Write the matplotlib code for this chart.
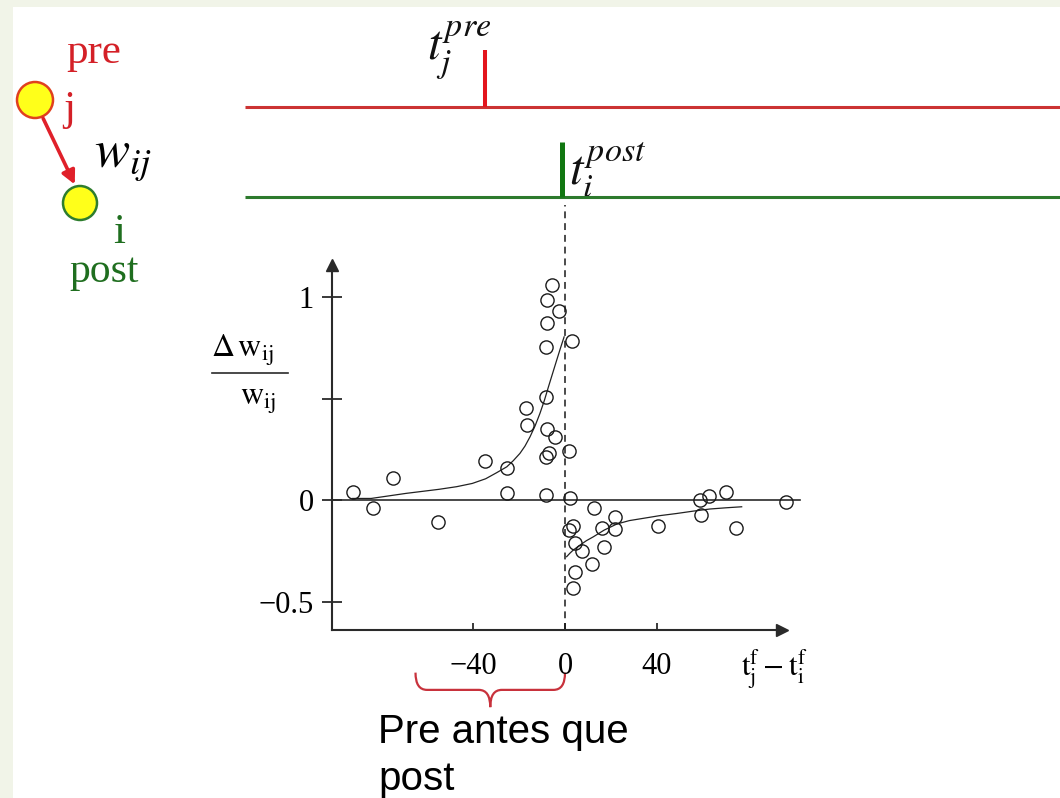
import matplotlib
matplotlib.use('Agg')
import matplotlib.pyplot as plt
from matplotlib.patches import Circle, Rectangle, FancyArrowPatch, PathPatch
from matplotlib.path import Path

plt.rcParams['mathtext.fontset'] = 'stix'
plt.rcParams['font.family'] = ['Liberation Serif', 'DejaVu Serif']

# spike timing difference t_j - t_i (ms) and relative weight change
dt = [-5.8, -8.0, -2.5, -7.7, -8.3, 3.0, -8.3, -17.0, -16.4, -7.7, -4.3,
      1.9, -6.8, -8.3, -34.8, -25.3, -74.9, -92.3, -25.3, -8.3, 2.2, -83.3,
      -55.1, 12.7, 3.3, 1.9, 21.7, 16.0, 21.7, 4.3, 7.3, 17.0, 11.6, 4.3,
      3.6, 40.6, 58.7, 62.7, 70.0, 59.1, 74.3, 96.1]
dw = [1.059, 0.985, 0.933, 0.870, 0.752, 0.785, 0.509, 0.455, 0.369, 0.348,
      0.312, 0.241, 0.230, 0.210, 0.192, 0.156, 0.110, 0.039, 0.036, 0.025,
      0.008, -0.037, -0.107, -0.041, -0.128, -0.148, -0.082, -0.136, -0.144,
      -0.213, -0.251, -0.233, -0.317, -0.353, -0.435, -0.127, 0.0, 0.020,
      0.041, -0.074, -0.139, -0.011]

# fitted curves (potentiation for dt<0, depression for dt>0)
ltp_x = [-92.3, -84.3, -69.1, -54.8, -47.1, -40.3, -34.5, -29.7, -25.3,
         -22.5, -19.6, -17.4, -15.2, -13.0, -10.9, -9.0, -7.2, -5.4, -3.6,
         -2.0, -0.4]
ltp_y = [0.008, 0.008, 0.033, 0.053, 0.066, 0.082, 0.105, 0.135, 0.164,
         0.194, 0.230, 0.266, 0.312, 0.366, 0.427, 0.490, 0.558, 0.624,
         0.690, 0.748, 0.804]
ltd_x = [0.7, 2.1, 3.6, 6.5, 9.3, 12.3, 17.0, 22.5, 28.0, 34.0, 41.0, 48.6,
         56.0, 63.0, 70.0, 76.8]
ltd_y = [-0.279, -0.262, -0.246, -0.222, -0.200, -0.181, -0.148, -0.118,
         -0.101, -0.090, -0.077, -0.066, -0.054, -0.044, -0.038, -0.033]

xticks = [-40, 0, 40]
xticklabels = ['\u221240', '0', '40']
yticks = [-0.5, 0, 0.5, 1]
yticklabels = ['\u22120.5', '0', '', '1']

# spike times of the pre- and postsynaptic neuron
t_pre = -35
t_post = 0
# pre-before-post window marked by the brace
window = (-65, 0)

W, H = 1060, 798
fig = plt.figure(figsize=(W / 100, H / 100), dpi=100, facecolor='white')

# pixel-space layer for the schematic parts
ov = fig.add_axes([0, 0, 1, 1])
ov.set_xlim(0, W)
ov.set_ylim(H, 0)
ov.axis('off')
ov.patch.set_visible(False)

ov.add_patch(Rectangle((0, 0), W, 7, color='#f1f4e8', lw=0))
ov.add_patch(Rectangle((0, 0), 13, H, color='#f1f4e8', lw=0))

# data axes
xlim = (-101.3, 106.5)
ylim = (-0.640, 1.158)
ax = fig.add_axes([332 / W, 1 - 630 / H, 478 / W, 365 / H])
ax.set_xlim(*xlim)
ax.set_ylim(*ylim)
ax.patch.set_visible(False)
for s in ['top', 'right']:
    ax.spines[s].set_visible(False)
for s in ['left', 'bottom']:
    ax.spines[s].set_linewidth(1.5)
    ax.spines[s].set_color('#2a2a2a')
x_end = 94.3
ax.spines['bottom'].set_bounds(xlim[0], x_end)
ax.plot(x_end, ylim[0], marker='>', ms=8, color='#2a2a2a', clip_on=False)
ax.plot(xlim[0], ylim[1], marker='^', ms=8, color='#2a2a2a', clip_on=False)

ax.set_xticks(xticks)
ax.set_xticklabels(xticklabels)
ax.set_yticks(yticks)
ax.set_yticklabels(yticklabels)
ax.tick_params(axis='x', direction='in', length=5, width=1.3,
               color='#2a2a2a', labelsize=22, pad=16)
ax.tick_params(axis='y', direction='inout', length=14, width=1.3,
               color='#2a2a2a', labelsize=22, pad=6)

ax.plot([xlim[0], 102], [0, 0], color='#2a2a2a', lw=1.2)
ax.plot(ltp_x, ltp_y, color='#222222', lw=0.9)
ax.plot(ltd_x, ltd_y, color='#222222', lw=0.9)
ax.plot(dt, dw, 'o', ms=9.5, mfc='none', mec='#1a1a1a', mew=1.0,
        clip_on=False)

# spike trains above the plot, sharing the time axis
ax.plot([-139, 215], [1.937, 1.937], color='#cc3333', lw=2.2,
        clip_on=False, solid_capstyle='butt')
ax.plot([t_pre, t_pre], [1.937, 2.217], color='#e3141c', lw=2.9,
        clip_on=False, solid_capstyle='butt')
ax.plot([-139, 215], [1.494, 1.494], color='#2d7a2d', lw=2.2,
        clip_on=False, solid_capstyle='butt')
ax.plot([t_post - 1.3, t_post - 1.3], [1.494, 1.764], color='#117711',
        lw=3.6, clip_on=False, solid_capstyle='butt')
ax.plot([t_post, t_post], [ylim[0], 1.453], color='#1a1a1a', lw=1.1,
        dashes=(4.5, 3.2), clip_on=False)

# brace below the negative side of the axis
x0, x1 = window
xm = (x0 + x1) / 2
ytop, ymid, ytip = -0.85, -0.935, -1.02
r = 5
verts = [(x0, ytop), (x0, ymid), (x0 + r, ymid), (xm - r, ymid),
         (xm, ymid), (xm, ytip), (xm, ymid), (xm + r, ymid),
         (x1 - r, ymid), (x1, ymid), (x1, ytop)]
codes = [Path.MOVETO, Path.CURVE3, Path.CURVE3, Path.LINETO,
         Path.CURVE3, Path.CURVE3, Path.CURVE3, Path.CURVE3,
         Path.LINETO, Path.CURVE3, Path.CURVE3]
ax.add_patch(PathPatch(Path(verts, codes), fc='none', ec='#c8323c',
                       lw=1.6, clip_on=False))

# neuron schematic
red = '#d42027'
green = '#1f6e1f'
ov.add_patch(Circle((35, 100), 18, fc='#ffff1a', ec='#e0401e', lw=1.8))
ov.add_patch(Circle((80, 203), 17, fc='#ffff1a', ec='#2e7d2e', lw=1.8))
ov.add_patch(FancyArrowPatch((42, 116), (76, 187), arrowstyle='-|>',
                             mutation_scale=20, color='#e0202a', lw=2.6))
ov.text(66, 63, 'pre', color=red, fontsize=31)
ov.text(63, 120, 'j', color=red, fontsize=31)
ov.text(94, 167, r'$w_{ij}$', fontsize=38, color='black')
ov.text(113, 243, 'i', color=green, fontsize=31)
ov.text(69, 282, 'post', color=green, fontsize=30)

ov.text(427, 60, r'$t_j^{pre}$', fontsize=35, color='#111111')
ov.text(569, 185, r'$t_i^{post}$', fontsize=35, color='#111111')

# axis labels
ov.text(211, 357, r'$\Delta\,\mathrm{w}_{\mathrm{ij}}$', fontsize=23)
ov.plot([212, 288], [373, 373], color='#2a2a2a', lw=1.2)
ov.text(240, 405, r'$\mathrm{w}_{\mathrm{ij}}$', fontsize=23)
ov.text(741, 675, r'$\mathrm{t}_{\mathrm{j}}^{\mathrm{f}}-\mathrm{t}_{\mathrm{i}}^{\mathrm{f}}$',
        fontsize=22)

ov.text(378, 743, 'Pre antes que', family='Liberation Sans', fontsize=29)
ov.text(378, 790, 'post', family='Liberation Sans', fontsize=29)

fig.savefig('out.png', dpi=100)
